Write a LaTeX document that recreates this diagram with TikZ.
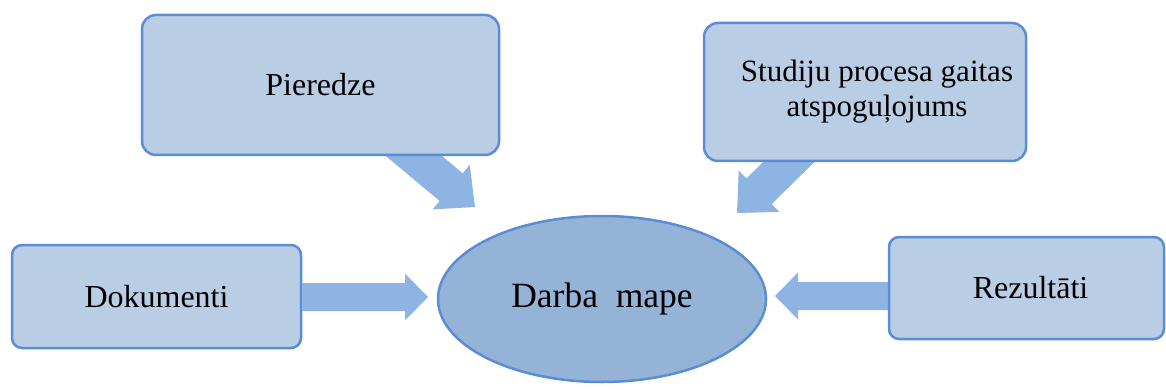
\documentclass[tikz,border=0pt]{standalone}
\usepackage{fontspec}
\setmainfont{Liberation Serif}
\usetikzlibrary{calc,backgrounds,shapes.geometric}
\definecolor{boxfill}{HTML}{B9CDE5}
\definecolor{boxline}{HTML}{5A8DD6}
\definecolor{ellfill}{HTML}{95B3D7}
\definecolor{arrowfill}{HTML}{8EB4E3}
% start, tip, shaft half width, head half width, head length
\newcommand{\blockarrow}[5]{%
  \coordinate (ba-h) at ($(#2)!#5!(#1)$);
  \fill[arrowfill] ($(#1)!#3!90:(#2)$) -- ($(ba-h)!#3!90:(#2)$) -- ($(ba-h)!#4!90:(#2)$) -- (#2) -- ($(ba-h)!#4!-90:(#2)$) -- ($(ba-h)!#3!-90:(#2)$) -- ($(#1)!#3!-90:(#2)$) -- cycle;}
\tikzset{
  infobox/.style={draw=boxline, fill=boxfill, line width=2.5pt, inner sep=0pt, align=center, font=\fontsize{32}{36}\selectfont},
  mapnode/.style={ellipse, draw=boxline, fill=ellfill, line width=2.5pt, inner sep=0pt, font=\fontsize{35.5}{40}\selectfont}
}
\begin{document}
\begin{tikzpicture}[x=1pt,y=-1pt]
\useasboundingbox (0,0) rectangle (1166,390);
\node[infobox, minimum width=357pt, minimum height=140pt, rounded corners=14pt] (pier) at (320.5,85) {Pieredze};
\node[infobox, minimum width=322pt, minimum height=138pt, rounded corners=14pt, font=\fontsize{31}{35}\selectfont] (stud) at (865,92) {\hspace*{24pt}Studiju procesa gaitas\\\hspace*{24pt}atspoguļojums};
\node[infobox, minimum width=289pt, minimum height=103pt, rounded corners=10pt] (dok) at (156.5,296.5) {Dokumenti};
\node[infobox, minimum width=275pt, minimum height=102pt, rounded corners=10pt] (rez) at (1026.5,288) {\hspace*{8pt}Rezultāti};
\node[mapnode, minimum width=328pt, minimum height=166pt] (map) at (602,299) {Darba\hspace{0.5em}mape};
\coordinate (dtip) at (428,297);
\coordinate (rtip) at (775,296);
\coordinate (pstart) at ($(pier.south)+(62.5,-26)$);
\coordinate (ptip) at (475,207);
\coordinate (sstart) at ($(stud.south)+(-45,-31)$);
\coordinate (stip) at (737,213);
\begin{scope}[on background layer]
\blockarrow{dok.east |- dtip}{dtip}{14pt}{23.5pt}{23pt}
\blockarrow{rez.west |- rtip}{rtip}{14pt}{23.5pt}{23pt}
\blockarrow{pstart}{ptip}{18pt}{29pt}{31pt}
\blockarrow{sstart}{stip}{18pt}{29pt}{31pt}
\end{scope}
\end{tikzpicture}
\end{document}
